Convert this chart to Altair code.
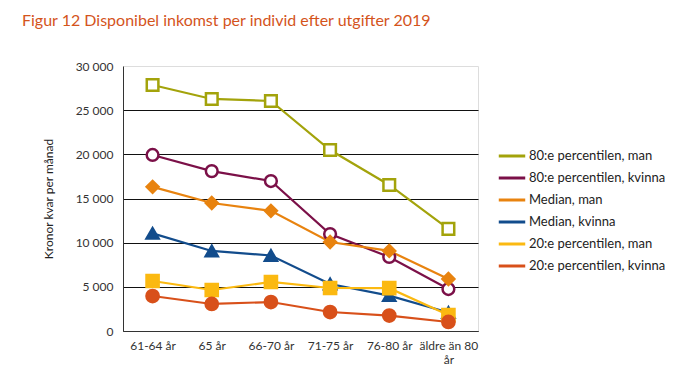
import altair as alt
import pandas as pd

categories = ["61-64 år", "65 år", "66-70 år", "71-75 år", "76-80 år", "äldre än 80 år"]
series = ["80:e percentilen, man", "80:e percentilen, kvinna", "Median, man",
          "Median, kvinna", "20:e percentilen, man", "20:e percentilen, kvinna"]
p80_man = [27850, 26270, 26040, 20490, 16530, 11560]
p80_kvinna = [19930, 18100, 16980, 10980, 8380, 4750]
median_man = [16320, 14490, 13600, 10070, 9070, 5890]
median_kvinna = [11050, 9060, 8550, 5320, 4000, 2100]
p20_man = [5660, 4640, 5550, 4870, 4850, 1800]
p20_kvinna = [3960, 3060, 3280, 2150, 1750, 1020]
colors = ["#a3a30b", "#7b1048", "#e8830f", "#124c8c", "#fbb911", "#d8501a"]
fills = ["white", "white", "#e8830f", "#124c8c", "#fbb911", "#d8501a"]
shapes = ["square", "circle", "diamond", "triangle-up", "square", "circle"]
sizes = [135, 150, 100, 130, 165, 125]
strokes = [2.5, 2.5, 0, 0, 0, 0]

values = [p80_man, p80_kvinna, median_man, median_kvinna, p20_man, p20_kvinna]
rows = []
for si, (s, vals) in enumerate(zip(series, values)):
    for c, v in zip(categories, vals):
        rows.append({"serie": s, "markor": s, "order": si, "kat": c, "varde": v})
df = pd.DataFrame(rows)

FONT = "Lato"

x = alt.X("kat:N", sort=categories, title=None,
          axis=alt.Axis(labelAngle=0, ticks=False, domainColor="#333333",
                        labelColor="#333333", labelFontSize=12, labelFont=FONT,
                        labelPadding=9,
                        labelExpr="datum.label == 'äldre än 80 år' ? ['äldre än 80', 'år'] : datum.label"))
y = alt.Y("varde:Q", title="Kronor kvar per månad",
          scale=alt.Scale(domain=[0, 30000]),
          axis=alt.Axis(values=[0, 5000, 10000, 15000, 20000, 25000, 30000],
                        ticks=False, domainColor="#333333",
                        gridColor={"condition": {"test": "datum.value >= 30000", "value": "transparent"}, "value": "#111111"},
                        gridWidth=1.2,
                        labelColor="#333333", labelFontSize=12, labelFont=FONT,
                        labelPadding=10, titleFont=FONT, titleFontSize=12,
                        titleFontWeight="normal", titleColor="#222222",
                        titlePadding=20,
                        labelExpr="replace(format(datum.value, ','), ',', ' ')"))
color = alt.Color("serie:N", scale=alt.Scale(domain=series, range=colors),
                  legend=alt.Legend(title=None, orient="none", legendX=374, legendY=75,
                                    symbolType="stroke", symbolStrokeWidth=3,
                                    symbolSize=700, labelFont=FONT, labelFontSize=13,
                                    labelColor="#222222", rowPadding=0, labelOffset=2))

lines = alt.Chart(df).mark_line(strokeWidth=2.2).encode(x=x, y=y, color=color,
                                                        order="order:Q")
points = alt.Chart(df).mark_point(filled=False, opacity=1).encode(
    x=x, y=y,
    stroke=alt.Stroke("markor:N", scale=alt.Scale(domain=series, range=colors), legend=None),
    fill=alt.Fill("markor:N", scale=alt.Scale(domain=series, range=fills), legend=None),
    shape=alt.Shape("markor:N", scale=alt.Scale(domain=series, range=shapes), legend=None),
    size=alt.Size("markor:N", scale=alt.Scale(domain=series, range=sizes), legend=None),
    strokeWidth=alt.StrokeWidth("markor:N", scale=alt.Scale(domain=series, range=strokes), legend=None),
    order="order:Q",
)

chart = alt.layer(lines, points).resolve_scale(
    color="independent", stroke="independent", fill="independent"
).properties(
    width=355, height=265,
    padding={"left": 14, "top": 5, "right": 5, "bottom": 5},
    title=alt.Title("Figur 12 Disponibel inkomst per individ efter utgifter 2019",
                    anchor="start", frame="group", dx=-101, offset=31,
                    font=FONT, fontSize=16, fontWeight="normal", color="#d4541c"),
).configure_view(stroke=None).configure(background="white")

chart.save("out.html", embed_options={"renderer": "svg", "actions": False})
